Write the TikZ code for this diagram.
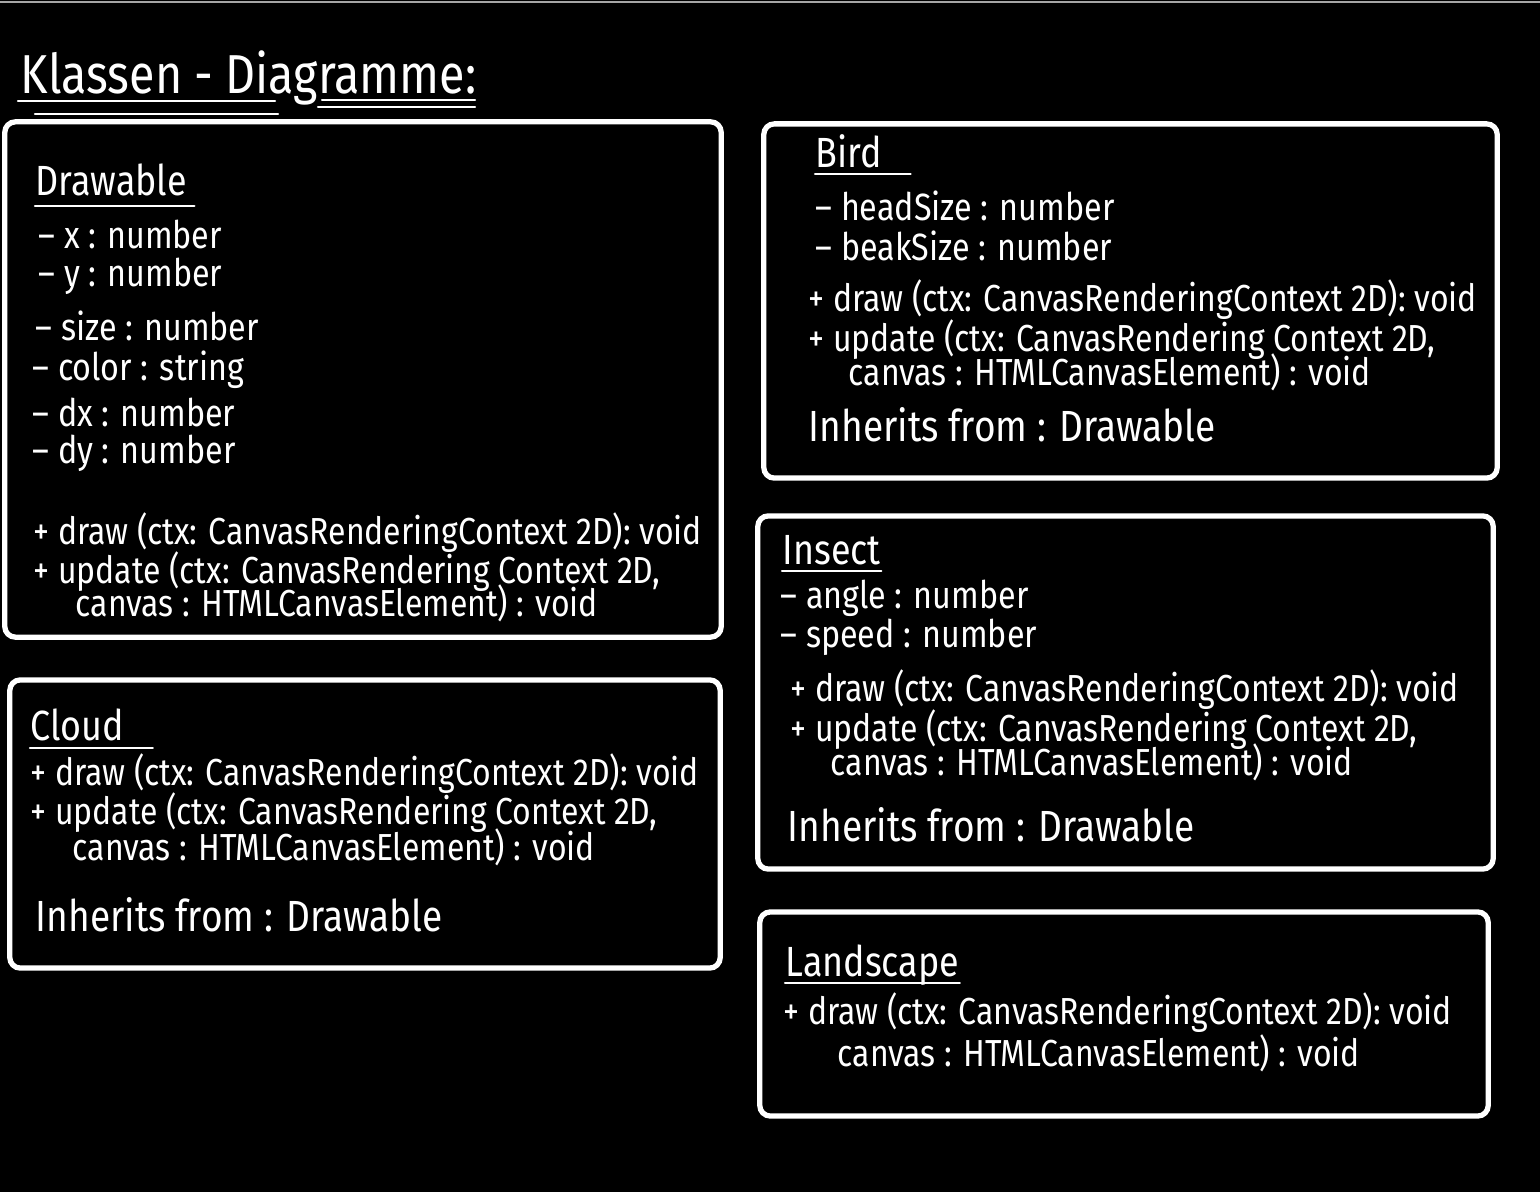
\documentclass[tikz,border=0pt]{standalone}
\usepackage{fontspec}
\setmainfont{Fira Sans}[FakeStretch=0.85]
\usetikzlibrary{positioning}
\tikzset{
    classbox/.style={
    rectangle,rounded corners=3pt,draw=white,line width=1.5pt,inner sep=0pt
    },
    title/.style={
    anchor=west,inner sep=0pt,text=white,font=\fontsize{15.6}{18}\selectfont
    },
    classname/.style={
    anchor=west,inner sep=0pt,text=white,font=\fontsize{12}{14}\selectfont
    },
    attr/.style={
    anchor=west,inner sep=0pt,text=white,font=\fontsize{10.8}{12}\selectfont
    },
    method/.style={
    anchor=west,inner sep=0pt,text=white,font=\fontsize{10.7}{12}\selectfont
    },
    inherit/.style={
    anchor=west,inner sep=0pt,text=white,font=\fontsize{12.4}{14}\selectfont
    },
    uline/.style={
    draw=white,line width=0.6pt,line cap=round
    },
}
\begin{document}
\begin{tikzpicture}[x=0.01cm, y=-0.01cm]
   \fill[black] (0,0) rectangle (1540,1192);
   \useasboundingbox (0,0) rectangle (1540,1192);
   \draw[gray!70,line width=0.8pt] (0,2) -- (1540,2);

   % title
   \node[title] (head) at (20,78) {Klassen - Diagramme:};
   \draw[uline] (18,101) -- (275,101);
   \draw[uline] (35,114) -- (278,114);
   \draw[uline] (322,100) -- (475,100);
   \draw[uline] (318,107) -- (475,107);

   % boxes
   \node[classbox,minimum width=7.16cm,minimum height=5.15cm] (drawable) at (363,379.5) {};
   \node[classbox,minimum width=7.10cm,minimum height=2.88cm] (cloud) at (365,824) {};
   \node[classbox,minimum width=7.33cm,minimum height=3.54cm] (bird) at (1130.5,301) {};
   \node[classbox,minimum width=7.35cm,minimum height=3.53cm] (insect) at (1125.5,692.5) {};
   \node[classbox,minimum width=7.28cm,minimum height=2.04cm] (landscape) at (1124,1014) {};

   % Drawable
   \node[classname] (dname) at (35,180) {Drawable};
   \draw[uline] ([yshift=-3pt]dname.base west) -- ([yshift=-3pt,xshift=2pt]dname.base east);
   \node[attr] (dx1) at (38,234) {– x : number};
   \node[attr] (dy1) at (38,276) {– y : number};
   \node[attr] (dsize) at (35,326) {– size : number};
   \node[attr] (dcolor) at (32,370) {– color : string};
   \node[attr] (ddx) at (32,412) {– dx : number};
   \node[attr] (ddy) at (32,453) {– dy : number};
   \node[method] (ddraw) at (33,533) {+ draw (ctx: CanvasRenderingContext 2D): void};
   \node[method] (dupdate) at (33,572) {+ update (ctx: CanvasRendering Context 2D,};
   \node[method] (dcanvas) at (75,603) {canvas : HTMLCanvasElement) : void};

   % Cloud
   \node[classname] (cname) at (30,725) {Cloud};
   \draw[uline] ([yshift=-2pt]cname.base west) -- ([yshift=-2pt,xshift=8pt]cname.base east);
   \node[method] (cdraw) at (30,774) {+ draw (ctx: CanvasRenderingContext 2D): void};
   \node[method] (cupdate) at (30,813) {+ update (ctx: CanvasRendering Context 2D,};
   \node[method] (ccanvas) at (72,847) {canvas : HTMLCanvasElement) : void};
   \node[inherit] (cinh) at (35,915) {Inherits from : Drawable};

   % Bird
   \node[classname] (bname) at (815,151) {Bird};
   \draw[uline] ([yshift=-2pt]bname.base west) -- ([yshift=-2pt,xshift=8pt]bname.base east);
   \node[attr] (bhead) at (815,206) {– headSize : number};
   \node[attr] (bbeak) at (815,246) {– beakSize : number};
   \node[method] (bdraw) at (808,300) {+ draw (ctx: CanvasRenderingContext 2D): void};
   \node[method] (bupdate) at (808,340) {+ update (ctx: CanvasRendering Context 2D,};
   \node[method] (bcanvas) at (848,372) {canvas : HTMLCanvasElement) : void};
   \node[inherit] (binh) at (808,425) {Inherits from : Drawable};

   % Insect
   \node[classname] (iname) at (782,550) {Insect};
   \draw[uline] ([yshift=-2pt]iname.base west) -- ([yshift=-2pt]iname.base east);
   \node[attr] (iangle) at (780,598) {– angle : number};
   \node[attr] (ispeed) at (780,637) {– speed : number};
   \node[method] (idraw) at (790,690) {+ draw (ctx: CanvasRenderingContext 2D): void};
   \node[method] (iupdate) at (790,730) {+ update (ctx: CanvasRendering Context 2D,};
   \node[method] (icanvas) at (830,762) {canvas : HTMLCanvasElement) : void};
   \node[inherit] (iinh) at (787,825) {Inherits from : Drawable};

   % Landscape
   \node[classname] (lname) at (785,965) {Landscape};
   \draw[uline] ([yshift=-2pt]lname.base west) -- ([yshift=-2pt]lname.base east);
   \node[method] (ldraw) at (783,1013) {+ draw (ctx: CanvasRenderingContext 2D): void};
   \node[method] (lcanvas) at (837,1053) {canvas : HTMLCanvasElement) : void};
\end{tikzpicture}
\end{document}
